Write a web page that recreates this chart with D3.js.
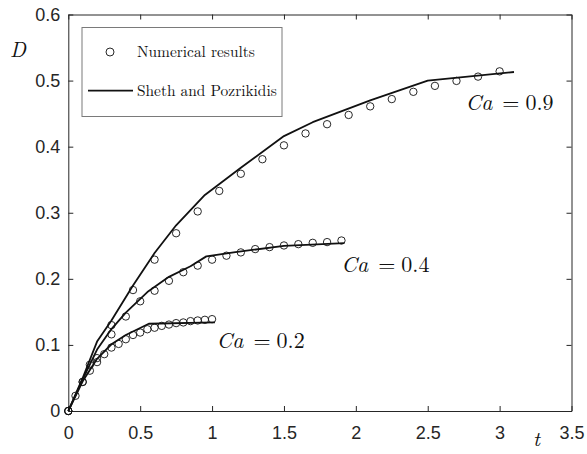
<!DOCTYPE html>
<html>
<head>
<meta charset="utf-8">
<script src="https://cdn.jsdelivr.net/npm/d3@7"></script>
<style>
  html, body { margin: 0; padding: 0; background: #fff; }
  svg { display: block; }
</style>
</head>
<body>
<svg id="chart" width="587" height="454"></svg>
<script>
// Deformation D versus time t for three capillary numbers

// Axis ticks
const xTicks = [0, 0.5, 1, 1.5, 2, 2.5, 3, 3.5];
const xTickLabels = ["0", "0.5", "1", "1.5", "2", "2.5", "3", "3.5"];
const yTicks = [0, 0.1, 0.2, 0.3, 0.4, 0.5, 0.6];
const yTickLabels = ["0", "0.1", "0.2", "0.3", "0.4", "0.5", "0.6"];

// Numerical results (circles)
const tNum09 = [0, 0.15, 0.3, 0.45, 0.6, 0.75, 0.9, 1.05, 1.2, 1.35, 1.5, 1.65, 1.8, 1.95, 2.1, 2.25, 2.4, 2.55, 2.7, 2.85, 3.0];
const dNum09 = [0, 0.070, 0.130, 0.183, 0.229, 0.269, 0.302, 0.333, 0.359, 0.381, 0.402, 0.420, 0.434, 0.448, 0.461, 0.472, 0.483, 0.492, 0.4995, 0.506, 0.514];

const tNum04 = [0, 0.1, 0.2, 0.3, 0.4, 0.5, 0.6, 0.7, 0.8, 0.9, 1.0, 1.1, 1.2, 1.3, 1.4, 1.5, 1.6, 1.7, 1.8, 1.9];
const dNum04 = [0, 0.044, 0.080, 0.116, 0.143, 0.166, 0.182, 0.197, 0.210, 0.220, 0.229, 0.235, 0.240, 0.245, 0.248, 0.2505, 0.2525, 0.2545, 0.2556, 0.258];

const tNum02 = [0, 0.05, 0.1, 0.15, 0.2, 0.25, 0.3, 0.35, 0.4, 0.45, 0.5, 0.55, 0.6, 0.65, 0.7, 0.75, 0.8, 0.85, 0.9, 0.95, 1.0];
const dNum02 = [0, 0.023, 0.044, 0.061, 0.074, 0.086, 0.096, 0.1015, 0.1086, 0.115, 0.1187, 0.1237, 0.126, 0.1288, 0.1308, 0.133, 0.134, 0.136, 0.137, 0.138, 0.139];

// Sheth and Pozrikidis (solid lines)
const tRef09 = [0, 0.1, 0.2, 0.3, 0.45, 0.6, 0.75, 0.95, 1.2, 1.5, 1.7, 2.1, 2.5, 3.1];
const dRef09 = [0, 0.050, 0.105, 0.137, 0.190, 0.239, 0.281, 0.327, 0.368, 0.416, 0.437, 0.470, 0.500, 0.513];

const tRef04 = [0, 0.1, 0.2, 0.3, 0.4, 0.55, 0.7, 0.85, 0.96, 1.15, 1.5, 1.92];
const dRef04 = [0, 0.048, 0.093, 0.124, 0.149, 0.180, 0.203, 0.219, 0.234, 0.240, 0.250, 0.254];

const tRef02 = [0, 0.1, 0.2, 0.3, 0.4, 0.56, 1.02];
const dRef02 = [0, 0.045, 0.079, 0.101, 0.115, 0.132, 0.134];

// Curve labels: capillary number and anchor (t, D) of the label start
const caValues = ["0.9", "0.4", "0.2"];
const caLabelT = [2.762, 1.899, 1.031];
const caLabelD = [0.455, 0.210, 0.096];

const legendLabels = ["Numerical results", "Sheth and Pozrikidis"];

const svg = d3.select("#chart");
const axisColor = "#262626";
const serif = "Latin Modern Roman, Liberation Serif, serif";
const sans = "Liberation Sans, Arial, Helvetica, sans-serif";

const x = d3.scaleLinear().domain([0, 3.5]).range([68.3, 571.5]);
const y = d3.scaleLinear().domain([0, 0.6]).range([411, 14.5]);

// Axes box with inward ticks on all four sides
const gx = svg.append("g").attr("transform", `translate(0,${y(0)})`)
  .call(d3.axisBottom(x).tickValues(xTicks).tickFormat((d, i) => xTickLabels[i])
    .tickSizeInner(-5).tickSizeOuter(0).tickPadding(15));
const gy = svg.append("g").attr("transform", `translate(${x(0)},0)`)
  .call(d3.axisLeft(y).tickValues(yTicks).tickFormat((d, i) => yTickLabels[i])
    .tickSizeInner(-5).tickSizeOuter(0).tickPadding(8));
const gt = svg.append("g").attr("transform", `translate(0,${y(0.6)})`)
  .call(d3.axisTop(x).tickValues(xTicks).tickFormat("").tickSizeInner(-5).tickSizeOuter(0));
const gr = svg.append("g").attr("transform", `translate(${x(3.5)},0)`)
  .call(d3.axisRight(y).tickValues(yTicks).tickFormat("").tickSizeInner(-5).tickSizeOuter(0));

[gx, gy, gt, gr].forEach(g => {
  g.attr("font-family", sans).attr("font-size", 18);
  g.select(".domain").attr("stroke", axisColor).attr("stroke-width", 1);
  g.selectAll(".tick line").attr("stroke", axisColor).attr("stroke-width", 1);
  g.selectAll(".tick text").attr("fill", axisColor);
});

// Reference lines
const line = d3.line().x(d => x(d[0])).y(d => y(d[1]));
const refSeries = [[tRef09, dRef09], [tRef04, dRef04], [tRef02, dRef02]];
svg.append("g").selectAll("path")
  .data(refSeries.map(([ts, ds]) => ts.map((t, i) => [t, ds[i]])))
  .join("path")
  .attr("d", line)
  .attr("fill", "none")
  .attr("stroke", "#111")
  .attr("stroke-width", 1.8)
  .attr("stroke-linejoin", "round");

// Numerical points
const numSeries = [[tNum09, dNum09], [tNum04, dNum04], [tNum02, dNum02]];
svg.append("g").selectAll("circle")
  .data(numSeries.flatMap(([ts, ds]) => ts.map((t, i) => [t, ds[i]])))
  .join("circle")
  .attr("cx", d => x(d[0]))
  .attr("cy", d => y(d[1]))
  .attr("r", 3.7)
  .attr("fill", "none")
  .attr("stroke", "#111")
  .attr("stroke-width", 0.9);

// Curve labels: italic Ca, equals sign, value
caValues.forEach((v, i) => {
  const x0 = x(caLabelT[i]);
  const yb = y(caLabelD[i]);
  const g = svg.append("g").attr("font-family", serif).attr("font-size", 22).attr("fill", "#111");
  g.append("text").attr("x", x0).attr("y", yb).attr("font-style", "italic").text("Ca");
  g.append("text").attr("x", x0 + 45.5).attr("y", yb).attr("text-anchor", "middle").text("=");
  g.append("text").attr("x", x0 + 60).attr("y", yb).text(v);
});

// Axis titles
svg.append("text").attr("font-family", serif).attr("x", 10).attr("y", 56.5)
  .attr("font-style", "italic").attr("font-size", 21)
  .attr("fill", "#111").text("D");
svg.append("text").attr("font-family", serif).attr("x", 533).attr("y", 446)
  .attr("font-style", "italic").attr("font-size", 21)
  .attr("fill", "#111").text("t");

// Legend
const lg = svg.append("g");
lg.append("rect").attr("x", 82).attr("y", 27.5).attr("width", 200).attr("height", 89)
  .attr("fill", "#fff").attr("stroke", "#7a7a7a").attr("stroke-width", 1);
lg.append("circle").attr("cx", 110).attr("cy", 52).attr("r", 4)
  .attr("fill", "none").attr("stroke", "#111").attr("stroke-width", 0.9);
lg.append("line").attr("x1", 88).attr("x2", 133).attr("y1", 90.7).attr("y2", 90.7)
  .attr("stroke", "#111").attr("stroke-width", 1.8);
lg.selectAll("text.leg").data(legendLabels).join("text")
  .attr("class", "leg")
  .attr("font-family", serif)
  .attr("font-size", 15.4)
  .attr("x", 137)
  .attr("y", (d, i) => i === 0 ? 56.5 : 96)
  .attr("fill", "#111")
  .text(d => d);
</script>
</body>
</html>
